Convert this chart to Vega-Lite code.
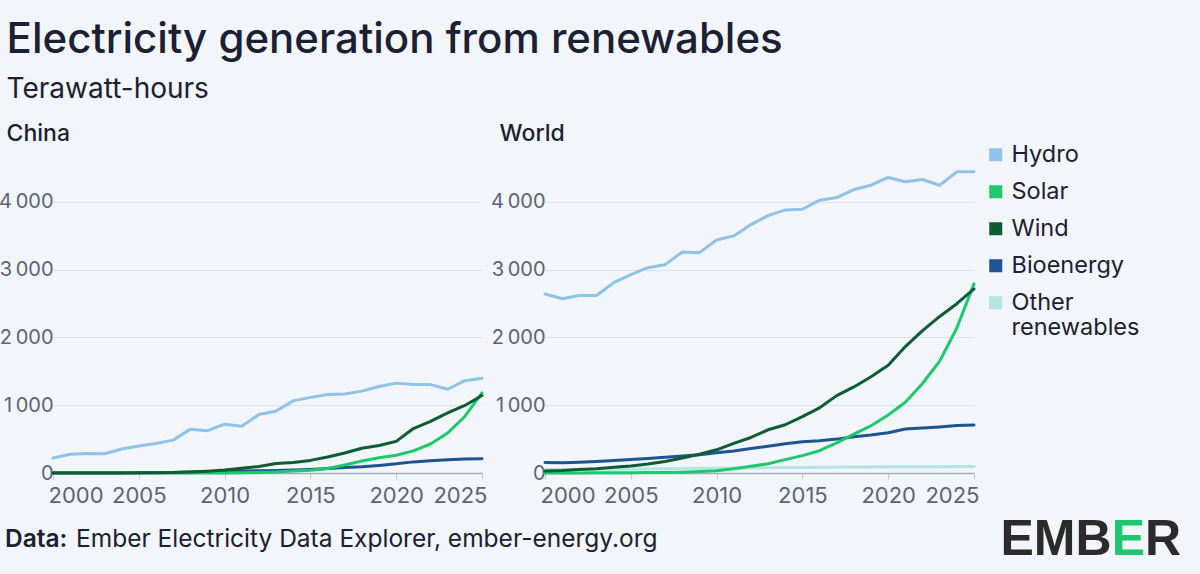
{
  "$schema": "https://vega.github.io/schema/vega-lite/v6.json",
  "background": "#f2f5f9",
  "padding": {"left": -2, "top": 19, "right": 21, "bottom": 13},
  "title": {
    "text": "Electricity generation from renewables",
    "subtitle": "Terawatt-hours",
    "anchor": "start",
    "frame": "bounds",
    "dx": 8,
    "font": "Inter",
    "fontSize": 42,
    "fontWeight": 500,
    "color": "#1b2132",
    "subtitleFont": "Inter",
    "subtitleFontSize": 28,
    "subtitleFontWeight": 400,
    "subtitleColor": "#1b2132",
    "subtitlePadding": 14,
    "offset": 18
  },
  "config": {
    "view": {"stroke": null},
    "font": "Inter",
    "axis": {
      "labelFont": "Inter",
      "labelColor": "#5b6475",
      "title": null
    },
    "axisY": {
      "domain": false,
      "ticks": false,
      "grid": true,
      "gridColor": "#dde2ea",
      "gridWidth": 1.2,
      "labelPadding": 0,
      "labelFontSize": 20
    },
    "axisX": {
      "grid": false,
      "domain": true,
      "domainColor": "#a7adb6",
      "domainWidth": 1.5,
      "ticks": true,
      "tickColor": "#c6cbd2",
      "tickSize": 6,
      "labelPadding": 6,
      "labelFlush": true,
      "labelFlushOffset": 5,
      "labelFontSize": 22
    },
    "legend": {
      "labelFont": "Inter",
      "labelFontSize": 23.5,
      "labelColor": "#1b2132",
      "symbolType": "square",
      "symbolSize": 169,
      "labelOffset": 4,
      "rowPadding": 12,
      "padding": 0
    },
    "title": {"font": "Inter", "color": "#1b2132"}
  },
  "datasets": {
    "gen": [
      {"region": "China", "source": "Bioenergy", "year": 2000, "twh": 2.4},
      {"region": "China", "source": "Bioenergy", "year": 2001, "twh": 2.5},
      {"region": "China", "source": "Bioenergy", "year": 2002, "twh": 2.6},
      {"region": "China", "source": "Bioenergy", "year": 2003, "twh": 3},
      {"region": "China", "source": "Bioenergy", "year": 2004, "twh": 3.5},
      {"region": "China", "source": "Bioenergy", "year": 2005, "twh": 5},
      {"region": "China", "source": "Bioenergy", "year": 2006, "twh": 6},
      {"region": "China", "source": "Bioenergy", "year": 2007, "twh": 8},
      {"region": "China", "source": "Bioenergy", "year": 2008, "twh": 14},
      {"region": "China", "source": "Bioenergy", "year": 2009, "twh": 20},
      {"region": "China", "source": "Bioenergy", "year": 2010, "twh": 25},
      {"region": "China", "source": "Bioenergy", "year": 2011, "twh": 30},
      {"region": "China", "source": "Bioenergy", "year": 2012, "twh": 34},
      {"region": "China", "source": "Bioenergy", "year": 2013, "twh": 38},
      {"region": "China", "source": "Bioenergy", "year": 2014, "twh": 45},
      {"region": "China", "source": "Bioenergy", "year": 2015, "twh": 53},
      {"region": "China", "source": "Bioenergy", "year": 2016, "twh": 65},
      {"region": "China", "source": "Bioenergy", "year": 2017, "twh": 80},
      {"region": "China", "source": "Bioenergy", "year": 2018, "twh": 93},
      {"region": "China", "source": "Bioenergy", "year": 2019, "twh": 112},
      {"region": "China", "source": "Bioenergy", "year": 2020, "twh": 135},
      {"region": "China", "source": "Bioenergy", "year": 2021, "twh": 164},
      {"region": "China", "source": "Bioenergy", "year": 2022, "twh": 181},
      {"region": "China", "source": "Bioenergy", "year": 2023, "twh": 197},
      {"region": "China", "source": "Bioenergy", "year": 2024, "twh": 208},
      {"region": "China", "source": "Bioenergy", "year": 2025, "twh": 210},
      {"region": "China", "source": "Solar", "year": 2000, "twh": 0},
      {"region": "China", "source": "Solar", "year": 2001, "twh": 0},
      {"region": "China", "source": "Solar", "year": 2002, "twh": 0},
      {"region": "China", "source": "Solar", "year": 2003, "twh": 0},
      {"region": "China", "source": "Solar", "year": 2004, "twh": 0},
      {"region": "China", "source": "Solar", "year": 2005, "twh": 0.1},
      {"region": "China", "source": "Solar", "year": 2006, "twh": 0.1},
      {"region": "China", "source": "Solar", "year": 2007, "twh": 0.1},
      {"region": "China", "source": "Solar", "year": 2008, "twh": 0.2},
      {"region": "China", "source": "Solar", "year": 2009, "twh": 0.4},
      {"region": "China", "source": "Solar", "year": 2010, "twh": 0.7},
      {"region": "China", "source": "Solar", "year": 2011, "twh": 2.6},
      {"region": "China", "source": "Solar", "year": 2012, "twh": 6.4},
      {"region": "China", "source": "Solar", "year": 2013, "twh": 15.5},
      {"region": "China", "source": "Solar", "year": 2014, "twh": 29.2},
      {"region": "China", "source": "Solar", "year": 2015, "twh": 39.5},
      {"region": "China", "source": "Solar", "year": 2016, "twh": 66},
      {"region": "China", "source": "Solar", "year": 2017, "twh": 118},
      {"region": "China", "source": "Solar", "year": 2018, "twh": 177},
      {"region": "China", "source": "Solar", "year": 2019, "twh": 224},
      {"region": "China", "source": "Solar", "year": 2020, "twh": 261},
      {"region": "China", "source": "Solar", "year": 2021, "twh": 327},
      {"region": "China", "source": "Solar", "year": 2022, "twh": 428},
      {"region": "China", "source": "Solar", "year": 2023, "twh": 590},
      {"region": "China", "source": "Solar", "year": 2024, "twh": 834},
      {"region": "China", "source": "Solar", "year": 2025, "twh": 1182},
      {"region": "China", "source": "Wind", "year": 2000, "twh": 0.6},
      {"region": "China", "source": "Wind", "year": 2001, "twh": 0.7},
      {"region": "China", "source": "Wind", "year": 2002, "twh": 0.8},
      {"region": "China", "source": "Wind", "year": 2003, "twh": 1},
      {"region": "China", "source": "Wind", "year": 2004, "twh": 1.3},
      {"region": "China", "source": "Wind", "year": 2005, "twh": 2},
      {"region": "China", "source": "Wind", "year": 2006, "twh": 3.7},
      {"region": "China", "source": "Wind", "year": 2007, "twh": 5.7},
      {"region": "China", "source": "Wind", "year": 2008, "twh": 14.8},
      {"region": "China", "source": "Wind", "year": 2009, "twh": 26.9},
      {"region": "China", "source": "Wind", "year": 2010, "twh": 44.6},
      {"region": "China", "source": "Wind", "year": 2011, "twh": 70},
      {"region": "China", "source": "Wind", "year": 2012, "twh": 96},
      {"region": "China", "source": "Wind", "year": 2013, "twh": 141},
      {"region": "China", "source": "Wind", "year": 2014, "twh": 156},
      {"region": "China", "source": "Wind", "year": 2015, "twh": 186},
      {"region": "China", "source": "Wind", "year": 2016, "twh": 237},
      {"region": "China", "source": "Wind", "year": 2017, "twh": 295},
      {"region": "China", "source": "Wind", "year": 2018, "twh": 366},
      {"region": "China", "source": "Wind", "year": 2019, "twh": 406},
      {"region": "China", "source": "Wind", "year": 2020, "twh": 467},
      {"region": "China", "source": "Wind", "year": 2021, "twh": 656},
      {"region": "China", "source": "Wind", "year": 2022, "twh": 762},
      {"region": "China", "source": "Wind", "year": 2023, "twh": 886},
      {"region": "China", "source": "Wind", "year": 2024, "twh": 997},
      {"region": "China", "source": "Wind", "year": 2025, "twh": 1143},
      {"region": "China", "source": "Hydro", "year": 2000, "twh": 222},
      {"region": "China", "source": "Hydro", "year": 2001, "twh": 277},
      {"region": "China", "source": "Hydro", "year": 2002, "twh": 288},
      {"region": "China", "source": "Hydro", "year": 2003, "twh": 284},
      {"region": "China", "source": "Hydro", "year": 2004, "twh": 354},
      {"region": "China", "source": "Hydro", "year": 2005, "twh": 397},
      {"region": "China", "source": "Hydro", "year": 2006, "twh": 436},
      {"region": "China", "source": "Hydro", "year": 2007, "twh": 485},
      {"region": "China", "source": "Hydro", "year": 2008, "twh": 645},
      {"region": "China", "source": "Hydro", "year": 2009, "twh": 624},
      {"region": "China", "source": "Hydro", "year": 2010, "twh": 720},
      {"region": "China", "source": "Hydro", "year": 2011, "twh": 690},
      {"region": "China", "source": "Hydro", "year": 2012, "twh": 862},
      {"region": "China", "source": "Hydro", "year": 2013, "twh": 914},
      {"region": "China", "source": "Hydro", "year": 2014, "twh": 1064},
      {"region": "China", "source": "Hydro", "year": 2015, "twh": 1116},
      {"region": "China", "source": "Hydro", "year": 2016, "twh": 1158},
      {"region": "China", "source": "Hydro", "year": 2017, "twh": 1166},
      {"region": "China", "source": "Hydro", "year": 2018, "twh": 1208},
      {"region": "China", "source": "Hydro", "year": 2019, "twh": 1276},
      {"region": "China", "source": "Hydro", "year": 2020, "twh": 1326},
      {"region": "China", "source": "Hydro", "year": 2021, "twh": 1304},
      {"region": "China", "source": "Hydro", "year": 2022, "twh": 1304},
      {"region": "China", "source": "Hydro", "year": 2023, "twh": 1236},
      {"region": "China", "source": "Hydro", "year": 2024, "twh": 1362},
      {"region": "China", "source": "Hydro", "year": 2025, "twh": 1399},
      {"region": "World", "source": "Other renewables", "year": 2000, "twh": 52},
      {"region": "World", "source": "Other renewables", "year": 2001, "twh": 53},
      {"region": "World", "source": "Other renewables", "year": 2002, "twh": 54},
      {"region": "World", "source": "Other renewables", "year": 2003, "twh": 56},
      {"region": "World", "source": "Other renewables", "year": 2004, "twh": 57},
      {"region": "World", "source": "Other renewables", "year": 2005, "twh": 58},
      {"region": "World", "source": "Other renewables", "year": 2006, "twh": 61},
      {"region": "World", "source": "Other renewables", "year": 2007, "twh": 64},
      {"region": "World", "source": "Other renewables", "year": 2008, "twh": 67},
      {"region": "World", "source": "Other renewables", "year": 2009, "twh": 69},
      {"region": "World", "source": "Other renewables", "year": 2010, "twh": 70},
      {"region": "World", "source": "Other renewables", "year": 2011, "twh": 72},
      {"region": "World", "source": "Other renewables", "year": 2012, "twh": 74},
      {"region": "World", "source": "Other renewables", "year": 2013, "twh": 77},
      {"region": "World", "source": "Other renewables", "year": 2014, "twh": 80},
      {"region": "World", "source": "Other renewables", "year": 2015, "twh": 82},
      {"region": "World", "source": "Other renewables", "year": 2016, "twh": 84},
      {"region": "World", "source": "Other renewables", "year": 2017, "twh": 86},
      {"region": "World", "source": "Other renewables", "year": 2018, "twh": 88},
      {"region": "World", "source": "Other renewables", "year": 2019, "twh": 90},
      {"region": "World", "source": "Other renewables", "year": 2020, "twh": 92},
      {"region": "World", "source": "Other renewables", "year": 2021, "twh": 93},
      {"region": "World", "source": "Other renewables", "year": 2022, "twh": 94},
      {"region": "World", "source": "Other renewables", "year": 2023, "twh": 94},
      {"region": "World", "source": "Other renewables", "year": 2024, "twh": 95},
      {"region": "World", "source": "Other renewables", "year": 2025, "twh": 96},
      {"region": "World", "source": "Bioenergy", "year": 2000, "twh": 155},
      {"region": "World", "source": "Bioenergy", "year": 2001, "twh": 150},
      {"region": "World", "source": "Bioenergy", "year": 2002, "twh": 160},
      {"region": "World", "source": "Bioenergy", "year": 2003, "twh": 170},
      {"region": "World", "source": "Bioenergy", "year": 2004, "twh": 185},
      {"region": "World", "source": "Bioenergy", "year": 2005, "twh": 200},
      {"region": "World", "source": "Bioenergy", "year": 2006, "twh": 215},
      {"region": "World", "source": "Bioenergy", "year": 2007, "twh": 234},
      {"region": "World", "source": "Bioenergy", "year": 2008, "twh": 250},
      {"region": "World", "source": "Bioenergy", "year": 2009, "twh": 270},
      {"region": "World", "source": "Bioenergy", "year": 2010, "twh": 300},
      {"region": "World", "source": "Bioenergy", "year": 2011, "twh": 325},
      {"region": "World", "source": "Bioenergy", "year": 2012, "twh": 360},
      {"region": "World", "source": "Bioenergy", "year": 2013, "twh": 395},
      {"region": "World", "source": "Bioenergy", "year": 2014, "twh": 430},
      {"region": "World", "source": "Bioenergy", "year": 2015, "twh": 460},
      {"region": "World", "source": "Bioenergy", "year": 2016, "twh": 475},
      {"region": "World", "source": "Bioenergy", "year": 2017, "twh": 500},
      {"region": "World", "source": "Bioenergy", "year": 2018, "twh": 535},
      {"region": "World", "source": "Bioenergy", "year": 2019, "twh": 560},
      {"region": "World", "source": "Bioenergy", "year": 2020, "twh": 595},
      {"region": "World", "source": "Bioenergy", "year": 2021, "twh": 650},
      {"region": "World", "source": "Bioenergy", "year": 2022, "twh": 665},
      {"region": "World", "source": "Bioenergy", "year": 2023, "twh": 680},
      {"region": "World", "source": "Bioenergy", "year": 2024, "twh": 700},
      {"region": "World", "source": "Bioenergy", "year": 2025, "twh": 708},
      {"region": "World", "source": "Solar", "year": 2000, "twh": 1},
      {"region": "World", "source": "Solar", "year": 2001, "twh": 1.3},
      {"region": "World", "source": "Solar", "year": 2002, "twh": 1.7},
      {"region": "World", "source": "Solar", "year": 2003, "twh": 2.2},
      {"region": "World", "source": "Solar", "year": 2004, "twh": 3},
      {"region": "World", "source": "Solar", "year": 2005, "twh": 4.3},
      {"region": "World", "source": "Solar", "year": 2006, "twh": 5.8},
      {"region": "World", "source": "Solar", "year": 2007, "twh": 7.9},
      {"region": "World", "source": "Solar", "year": 2008, "twh": 12.5},
      {"region": "World", "source": "Solar", "year": 2009, "twh": 20.4},
      {"region": "World", "source": "Solar", "year": 2010, "twh": 32},
      {"region": "World", "source": "Solar", "year": 2011, "twh": 64},
      {"region": "World", "source": "Solar", "year": 2012, "twh": 99},
      {"region": "World", "source": "Solar", "year": 2013, "twh": 136},
      {"region": "World", "source": "Solar", "year": 2014, "twh": 197},
      {"region": "World", "source": "Solar", "year": 2015, "twh": 256},
      {"region": "World", "source": "Solar", "year": 2016, "twh": 329},
      {"region": "World", "source": "Solar", "year": 2017, "twh": 444},
      {"region": "World", "source": "Solar", "year": 2018, "twh": 573},
      {"region": "World", "source": "Solar", "year": 2019, "twh": 697},
      {"region": "World", "source": "Solar", "year": 2020, "twh": 855},
      {"region": "World", "source": "Solar", "year": 2021, "twh": 1044},
      {"region": "World", "source": "Solar", "year": 2022, "twh": 1320},
      {"region": "World", "source": "Solar", "year": 2023, "twh": 1650},
      {"region": "World", "source": "Solar", "year": 2024, "twh": 2140},
      {"region": "World", "source": "Solar", "year": 2025, "twh": 2790},
      {"region": "World", "source": "Wind", "year": 2000, "twh": 31},
      {"region": "World", "source": "Wind", "year": 2001, "twh": 38},
      {"region": "World", "source": "Wind", "year": 2002, "twh": 52},
      {"region": "World", "source": "Wind", "year": 2003, "twh": 63},
      {"region": "World", "source": "Wind", "year": 2004, "twh": 85},
      {"region": "World", "source": "Wind", "year": 2005, "twh": 104},
      {"region": "World", "source": "Wind", "year": 2006, "twh": 133},
      {"region": "World", "source": "Wind", "year": 2007, "twh": 171},
      {"region": "World", "source": "Wind", "year": 2008, "twh": 220},
      {"region": "World", "source": "Wind", "year": 2009, "twh": 277},
      {"region": "World", "source": "Wind", "year": 2010, "twh": 342},
      {"region": "World", "source": "Wind", "year": 2011, "twh": 437},
      {"region": "World", "source": "Wind", "year": 2012, "twh": 524},
      {"region": "World", "source": "Wind", "year": 2013, "twh": 638},
      {"region": "World", "source": "Wind", "year": 2014, "twh": 712},
      {"region": "World", "source": "Wind", "year": 2015, "twh": 831},
      {"region": "World", "source": "Wind", "year": 2016, "twh": 962},
      {"region": "World", "source": "Wind", "year": 2017, "twh": 1142},
      {"region": "World", "source": "Wind", "year": 2018, "twh": 1270},
      {"region": "World", "source": "Wind", "year": 2019, "twh": 1420},
      {"region": "World", "source": "Wind", "year": 2020, "twh": 1590},
      {"region": "World", "source": "Wind", "year": 2021, "twh": 1865},
      {"region": "World", "source": "Wind", "year": 2022, "twh": 2100},
      {"region": "World", "source": "Wind", "year": 2023, "twh": 2310},
      {"region": "World", "source": "Wind", "year": 2024, "twh": 2498},
      {"region": "World", "source": "Wind", "year": 2025, "twh": 2715},
      {"region": "World", "source": "Hydro", "year": 2000, "twh": 2640},
      {"region": "World", "source": "Hydro", "year": 2001, "twh": 2571},
      {"region": "World", "source": "Hydro", "year": 2002, "twh": 2620},
      {"region": "World", "source": "Hydro", "year": 2003, "twh": 2620},
      {"region": "World", "source": "Hydro", "year": 2004, "twh": 2808},
      {"region": "World", "source": "Hydro", "year": 2005, "twh": 2926},
      {"region": "World", "source": "Hydro", "year": 2006, "twh": 3030},
      {"region": "World", "source": "Hydro", "year": 2007, "twh": 3074},
      {"region": "World", "source": "Hydro", "year": 2008, "twh": 3261},
      {"region": "World", "source": "Hydro", "year": 2009, "twh": 3251},
      {"region": "World", "source": "Hydro", "year": 2010, "twh": 3438},
      {"region": "World", "source": "Hydro", "year": 2011, "twh": 3498},
      {"region": "World", "source": "Hydro", "year": 2012, "twh": 3665},
      {"region": "World", "source": "Hydro", "year": 2013, "twh": 3798},
      {"region": "World", "source": "Hydro", "year": 2014, "twh": 3882},
      {"region": "World", "source": "Hydro", "year": 2015, "twh": 3892},
      {"region": "World", "source": "Hydro", "year": 2016, "twh": 4025},
      {"region": "World", "source": "Hydro", "year": 2017, "twh": 4064},
      {"region": "World", "source": "Hydro", "year": 2018, "twh": 4182},
      {"region": "World", "source": "Hydro", "year": 2019, "twh": 4246},
      {"region": "World", "source": "Hydro", "year": 2020, "twh": 4360},
      {"region": "World", "source": "Hydro", "year": 2021, "twh": 4296},
      {"region": "World", "source": "Hydro", "year": 2022, "twh": 4330},
      {"region": "World", "source": "Hydro", "year": 2023, "twh": 4246},
      {"region": "World", "source": "Hydro", "year": 2024, "twh": 4443},
      {"region": "World", "source": "Hydro", "year": 2025, "twh": 4443}
    ]
  },
  "vconcat": [
    {
      "hconcat": [
        {
          "title": {"text": "China", "anchor": "start", "frame": "bounds", "dx": 8, "fontSize": 23, "fontWeight": 500, "offset": 22},
          "data": {"name": "gen"},
          "transform": [{"filter": "datum.region === 'China'"}],
          "width": 429,
          "height": 305,
          "mark": {"type": "line", "strokeWidth": 3, "strokeJoin": "round", "strokeCap": "round"},
          "encoding": {
            "x": {
              "field": "year", "type": "quantitative",
              "scale": {"domain": [2000, 2025], "nice": false, "zero": false},
              "axis": {"values": [2000, 2005, 2010, 2015, 2020, 2025], "format": "d"}
            },
            "y": {
              "field": "twh", "type": "quantitative",
              "scale": {"domain": [0, 4500], "nice": false},
              "axis": {"values": [0, 1000, 2000, 3000, 4000], "labelExpr": "replace(format(datum.value, ','), ',', '\u2009')"}
            },
            "color": {"field": "source", "type": "nominal"}
          }
        },
        {
          "title": {"text": "World", "anchor": "start", "frame": "bounds", "dx": 9, "fontSize": 23, "fontWeight": 500, "offset": 22},
          "data": {"name": "gen"},
          "transform": [{"filter": "datum.region === 'World'"}],
          "width": 429,
          "height": 305,
          "mark": {"type": "line", "strokeWidth": 3, "strokeJoin": "round", "strokeCap": "round"},
          "encoding": {
            "x": {
              "field": "year", "type": "quantitative",
              "scale": {"domain": [2000, 2025], "nice": false, "zero": false},
              "axis": {"values": [2000, 2005, 2010, 2015, 2020, 2025], "format": "d"}
            },
            "y": {
              "field": "twh", "type": "quantitative",
              "scale": {"domain": [0, 4500], "nice": false},
              "axis": {"values": [0, 1000, 2000, 3000, 4000], "labelExpr": "replace(format(datum.value, ','), ',', '\u2009')"}
            },
            "color": {
              "field": "source",
              "type": "nominal",
              "scale": {
                "domain": ["Hydro", "Solar", "Wind", "Bioenergy", "Other renewables"],
                "range": ["#8fc3e8", "#1ec86c", "#0d5c33", "#1f5492", "#b2e5e4"]
              },
              "legend": {
                "title": null,
                "orient": "none",
                "legendX": 931,
                "legendY": -25,
                "labelExpr": "datum.label === 'Other renewables' ? ['Other', 'renewables'] : datum.label",
                "encode": {
                  "symbols": {"update": {"fill": {"scale": "color", "field": "value"}, "strokeWidth": {"value": 0}}}
                }
              }
            }
          }
        }
      ],
      "spacing": 3
    },
    {
      "width": 1128,
      "height": 40,
      "encoding": {
        "x": {"field": "part", "type": "nominal", "scale": {"type": "point", "domain": ["source", "logo"], "padding": 0}, "axis": null}
      },
      "layer": [
        {
          "data": {"values": [{"part": "source", "label": "Data:"}]},
          "mark": {"type": "text", "align": "left", "baseline": "middle", "dx": -48, "font": "Inter", "fontSize": 24.5, "fontWeight": 600, "color": "#1b2132"},
          "encoding": {"text": {"field": "label"}}
        },
        {
          "data": {"values": [{"part": "source", "label": "Ember Electricity Data Explorer, ember-energy.org"}]},
          "mark": {"type": "text", "align": "left", "baseline": "middle", "dx": 23, "font": "Inter", "fontSize": 24.5, "fontWeight": 400, "color": "#1b2132"},
          "encoding": {"text": {"field": "label"}}
        },
        {
          "data": {"values": [{"part": "logo", "label": "EMB"}]},
          "mark": {"type": "text", "align": "right", "baseline": "middle", "dx": -69.5, "font": "Liberation Sans", "fontSize": 50, "fontWeight": "bold", "color": "#2b2b2b"},
          "encoding": {"text": {"field": "label"}}
        },
        {
          "data": {"values": [{"part": "logo", "label": "E"}]},
          "mark": {"type": "text", "align": "right", "baseline": "middle", "dx": -36, "font": "Liberation Sans", "fontSize": 50, "fontWeight": "bold", "color": "#1ec86c"},
          "encoding": {"text": {"field": "label"}}
        },
        {
          "data": {"values": [{"part": "logo", "label": "R"}]},
          "mark": {"type": "text", "align": "right", "baseline": "middle", "dx": 0, "font": "Liberation Sans", "fontSize": 50, "fontWeight": "bold", "color": "#2b2b2b"},
          "encoding": {"text": {"field": "label"}}
        }
      ]
    }
  ],
  "spacing": 9
}
